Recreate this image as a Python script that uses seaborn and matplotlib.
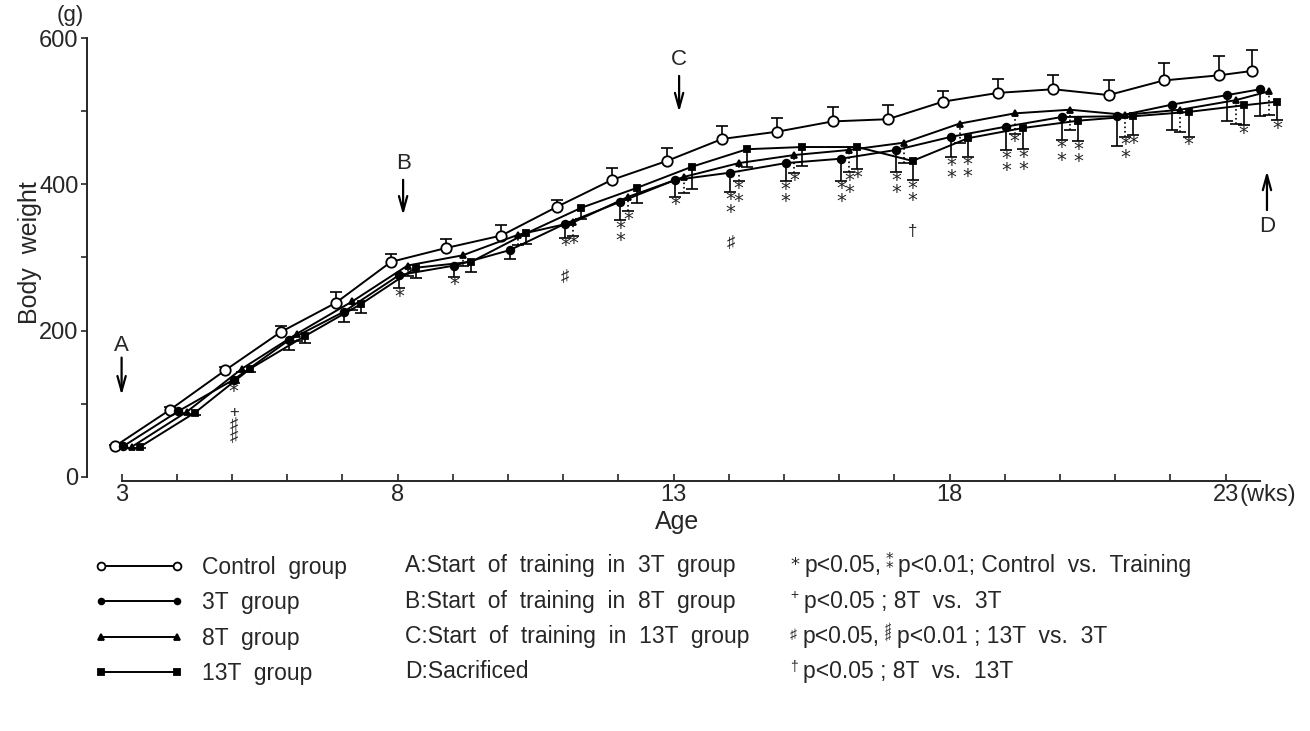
import numpy as np
import pandas as pd
import matplotlib
matplotlib.use("Agg")
import matplotlib.pyplot as plt
import seaborn as sns

# ---------------- data ----------------
weeks = [3, 4, 5, 6, 7, 8, 9, 10, 11, 12, 13, 14, 15, 16, 17, 18, 19, 20, 21, 22, 23, 23.6]

control = [42, 92, 146, 198, 238, 294, 313, 330, 369, 406, 432, 462, 472, 486, 489, 513, 525, 530, 522, 542, 549, 555]
t3 = [42, 90, 133, 187, 226, 276, 289, 310, 346, 376, 406, 416, 429, 435, 447, 465, 479, 492, 493, 509, 522, 530]
t8 = [41, 89, 148, 196, 240, 289, 303, 331, 348, 383, 410, 429, 440, 447, 457, 483, 497, 502, 495, 502, 515, 527]
t13 = [41, 88, 148, 193, 236, 286, 294, 333, 368, 395, 424, 448, 451, 451, 432, 463, 477, 487, 493, 499, 508, 513]

control_sd = [2, 3, 4, 9, 15, 11, 12, 15, 10, 16, 17, 18, 18, 20, 19, 15, 19, 20, 20, 24, 27, 28]
t3_sd = [2, 3, 5, 14, 14, 18, 15, 12, 19, 25, 23, 26, 25, 30, 30, 28, 32, 31, 40, 35, 36, 37]
t8_sd = [2, 3, 5, 10, 12, 14, 14, 14, 18, 20, 22, 24, 24, 30, 28, 26, 28, 28, 30, 30, 32, 32]
t13_sd = [2, 3, 5, 10, 12, 14, 14, 14, 16, 20, 30, 24, 26, 30, 26, 25, 29, 28, 26, 34, 27, 25]

group_names = ["Control  group", "3T  group", "8T  group", "13T  group"]

# significance marks: (week index, group, asterisks, extra symbols below)
sig_marks = [
    (2, "3T", "*", "+\n♯\n♯"),
    (5, "3T", "*", ""),
    (6, "3T", "*", ""),
    (8, "3T", "*", "♯"),
    (8, "8T", "*", ""),
    (9, "3T", "*\n*", ""),
    (9, "8T", "*", ""),
    (10, "3T", "*", ""),
    (11, "3T", "*\n*", "♯"),
    (11, "8T", "*\n*", ""),
    (12, "3T", "*\n*", ""),
    (12, "8T", "*", ""),
    (13, "3T", "*\n*", ""),
    (13, "8T", "*\n*", ""),
    (13, "13T", "*", ""),
    (14, "3T", "*\n*", ""),
    (14, "13T", "*\n*", "†"),
    (15, "3T", "*\n*", ""),
    (15, "13T", "*\n*", ""),
    (16, "3T", "*\n*", ""),
    (16, "8T", "*", ""),
    (16, "13T", "*\n*", ""),
    (17, "3T", "*\n*", ""),
    (17, "13T", "*\n*", ""),
    (18, "8T", "*\n*", ""),
    (18, "13T", "*", ""),
    (19, "13T", "*", ""),
    (20, "13T", "*", ""),
    (21, "13T", "*", ""),
]

# ---------------- style ----------------
sns.set_theme(style="ticks")
plt.rcParams["font.family"] = ["Liberation Sans", "DejaVu Sans"]
plt.rcParams["axes.linewidth"] = 1.4

fig = plt.figure(figsize=(13.1, 7.31), dpi=100)
ax = fig.add_axes([0.0664, 0.3375, 0.9155, 0.6105])

series = {
    "Control": dict(vals=control, sd=control_sd, off=-0.12, marker="o", ms=7.5, mfc="white", up=True, ls="-"),
    "3T": dict(vals=t3, sd=t3_sd, off=0.03, marker="o", ms=5.5, mfc="black", up=False, ls="-"),
    "8T": dict(vals=t8, sd=t8_sd, off=0.18, marker="^", ms=5.0, mfc="black", up=False, ls=":"),
    "13T": dict(vals=t13, sd=t13_sd, off=0.33, marker="s", ms=5.0, mfc="black", up=False, ls="-"),
}

handles = []
for key, s in series.items():
    x = np.array(weeks) + s["off"]
    v = np.array(s["vals"], dtype=float)
    sd = np.array(s["sd"], dtype=float)
    df = pd.DataFrame({"x": x, "y": v})
    sns.lineplot(data=df, x="x", y="y", ax=ax, color="black", lw=1.4,
                 marker=s["marker"], markersize=s["ms"], markerfacecolor=s["mfc"],
                 markeredgecolor="black", markeredgewidth=1.3, sort=False,
                 estimator=None, zorder=4, legend=False)
    handles.append(ax.lines[-1])
    zeros = np.zeros_like(sd)
    yerr = [zeros, sd] if s["up"] else [sd, zeros]
    eb = ax.errorbar(x, v, yerr=yerr, fmt="none", ecolor="black", elinewidth=1.2,
                     capsize=4, capthick=1.2, zorder=3)
    caps = eb.lines[1]
    if len(caps) == 2:
        caps[0 if s["up"] else 1].set_visible(False)
    if s["ls"] != "-":
        for b in eb.lines[2]:
            b.set_linestyle(s["ls"])

# significance marks
for i, g, stars, extra in sig_marks:
    s = series[g]
    x = weeks[i] + s["off"]
    y = s["vals"][i] - s["sd"][i]
    t = ax.annotate(stars, (x, y), xytext=(0, 1), textcoords="offset points",
                    ha="center", va="top", fontsize=14, linespacing=0.55,
                    annotation_clip=False, family=["DejaVu Sans"])
    if extra:
        ax.annotate(extra, xy=(0.5, 0), xycoords=t, xytext=(0, -3 if i == 2 else -10),
                    textcoords="offset points", ha="center", va="top", fontsize=12,
                    linespacing=0.75, annotation_clip=False)

# event arrows
arrow_kw = dict(arrowstyle="->,head_length=0.9,head_width=0.25", lw=1.6, color="black")
events = [("A", 3.0, 167, 108, 180), ("B", 8.1, 410, 354, 429), ("C", 13.1, 552, 495, 571)]
for lab, xe, tail, tip, ly in events:
    ax.annotate("", xy=(xe, tip), xytext=(xe, tail), arrowprops=arrow_kw, annotation_clip=False)
    ax.text(xe, ly, lab, ha="center", va="center", fontsize=16)
ax.annotate("", xy=(23.75, 422), xytext=(23.75, 361), arrowprops=arrow_kw, annotation_clip=False)
ax.text(23.75, 342, "D", ha="center", va="center", fontsize=16)

# axes
ax.set_xlim(2.373, 24.1)
ax.set_ylim(-10, 600)
for sp in ["top", "right"]:
    ax.spines[sp].set_visible(False)
ax.spines["left"].set_bounds(0, 600)
ax.spines["bottom"].set_position(("data", -6))
ax.spines["bottom"].set_bounds(3, 23.63)
ax.set_xticks([3, 8, 13, 18, 23])
ax.set_xticklabels(["3", "8", "13", "18", "23"])
ax.set_xticks(range(4, 23), minor=True)
ax.tick_params(axis="x", which="both", direction="in", length=5, width=1.2,
               labelsize=17, pad=2)
ax.set_yticks([0, 200, 400, 600])
ax.set_yticks([100, 300, 500], minor=True)
ax.tick_params(axis="y", which="both", direction="out", length=4, width=1.2,
               labelsize=17, pad=2)
ax.set_xlabel("")
ax.set_ylabel("")
ax.annotate("(wks)", xy=(23, -6), xytext=(10, -2), textcoords="offset points",
            ha="left", va="top", fontsize=17, annotation_clip=False)

fig.text(30 / 1310, 1 - 253 / 731, "Body  weight", rotation=90, ha="center", va="center", fontsize=18)
fig.text(70 / 1310, 1 - 16 / 731, "(g)", ha="center", va="center", fontsize=16)
fig.text(677 / 1310, 1 - 522 / 731, "Age", ha="center", va="center", fontsize=18)

# legend: groups
FS = 16.5
fig.legend(handles=handles, labels=group_names, loc="upper left",
           bbox_to_anchor=(0.072, 1 - 556 / 731), frameon=False, numpoints=2,
           handlelength=3.9, handletextpad=0.8, labelspacing=0.54, borderpad=0,
           borderaxespad=0, markerscale=0.75, fontsize=FS)

base = [1 - 572 / 731, 1 - 608 / 731, 1 - 643 / 731, 1 - 678 / 731]
col2 = ["A:Start  of  training  in  3T  group", "B:Start  of  training  in  8T  group",
        "C:Start  of  training  in  13T  group", "D:Sacrificed"]
for b, t in zip(base, col2):
    fig.text(405 / 1310, b, t, ha="left", va="baseline", fontsize=FS)


def after(prev, s, yb, gap, dy=0, **kw):
    return ax.annotate(s, xy=(1, yb), xycoords=(prev, "figure fraction"),
                       xytext=(gap, dy), textcoords="offset points",
                       ha="left", va="baseline", annotation_clip=False, **kw)


c3 = 790 / 1310
# row 1
t = fig.text(c3, base[0] + 0.003, "*", ha="left", va="baseline", fontsize=13, family=["DejaVu Sans"])
t = after(t, "p<0.05,", base[0], 4, fontsize=FS)
t = after(t, "*\n*", base[0], 3, dy=-1, fontsize=11, linespacing=0.5, family=["DejaVu Sans"])
t = after(t, "p<0.01; Control  vs.  Training", base[0], 3, fontsize=FS)
# row 2
t = fig.text(c3, base[1] + 0.012, "+", ha="left", va="baseline", fontsize=10)
after(t, "p<0.05 ; 8T  vs.  3T", base[1], 4, fontsize=FS)
# row 3
t = fig.text(c3, base[2] + 0.006, "♯", ha="left", va="baseline", fontsize=10)
t = after(t, "p<0.05,", base[2], 4, fontsize=FS)
t = after(t, "♯\n♯", base[2], 4, dy=2, fontsize=9, linespacing=0.6)
after(t, "p<0.01 ; 13T  vs.  3T", base[2], 4, fontsize=FS)
# row 4
t = fig.text(c3, base[3] + 0.010, "†", ha="left", va="baseline", fontsize=10)
after(t, "p<0.05 ; 8T  vs.  13T", base[3], 4, fontsize=FS)

fig.savefig("out.png", dpi=100, facecolor="white")
